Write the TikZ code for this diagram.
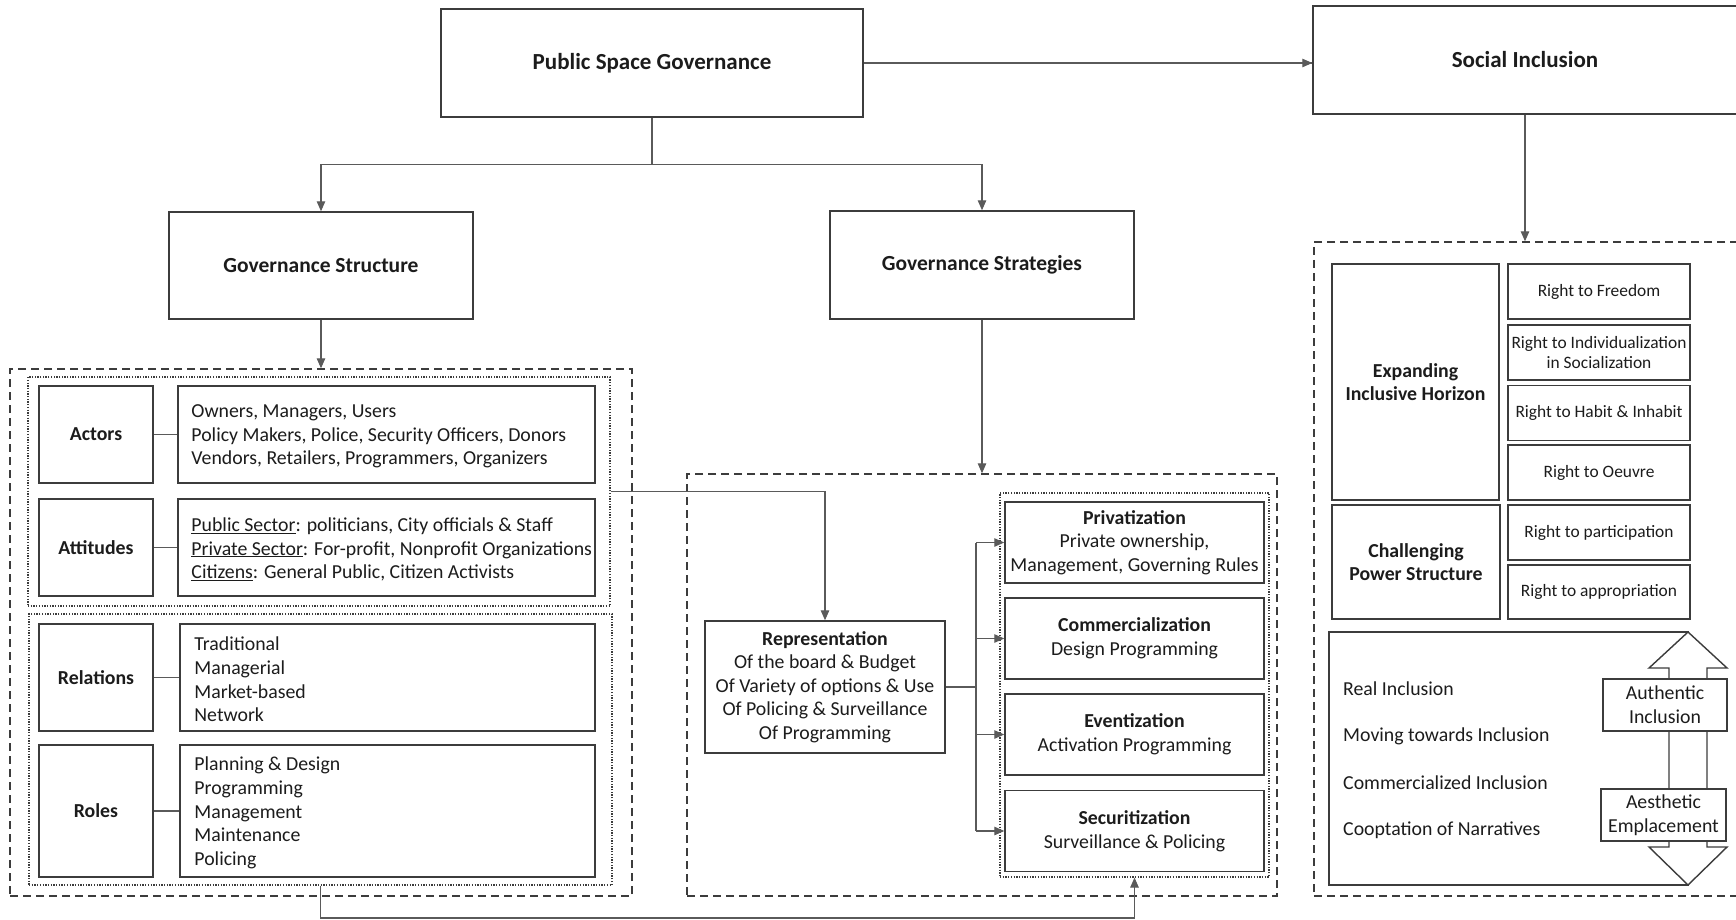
\documentclass[tikz,border=0pt]{standalone}
\usepackage{fontspec}
\setmainfont{Carlito}
\usetikzlibrary{arrows.meta,calc}
\definecolor{edge}{HTML}{3C3C3C}
\definecolor{wire}{HTML}{5A5A5A}
\definecolor{ink}{HTML}{1C1C1C}

\begin{document}
\begin{tikzpicture}[x=1pt,y=-1pt,
  box/.style={draw=edge, line width=1.5pt, fill=white, inner sep=2pt, text=ink, align=center},
  dashbox/.style={draw=edge, line width=1.4pt, dash pattern=on 8pt off 5pt},
  dotbox/.style={draw=edge, line width=1.2pt, dash pattern=on 1.3pt off 1.4pt},
  link/.style={draw=wire, line width=1.1pt},
  arr/.style={link, -{Triangle[length=10pt,width=8.5pt]}},
  big/.style={font=\fontsize{23}{28}\selectfont\bfseries},
  mid/.style={font=\fontsize{21.5}{26}\selectfont\bfseries},
  body/.style={font=\fontsize{19.8}{23.6}\selectfont},
  head/.style={font=\fontsize{19.8}{23.6}\selectfont\bfseries},
  small/.style={font=\fontsize{17.4}{20}\selectfont},
  txt/.style={text=ink, inner sep=0pt, align=left}
]
\useasboundingbox (0,0) rectangle (1736,920);
\clip (0,0) rectangle (1736,920);
\fill[white] (0,0) rectangle (1736,920);

% ---------- top level ----------
\node[box, big, minimum width=422pt, minimum height=108pt] (psg) at (652,63) {Public Space Governance};
\node[box, big, minimum width=424pt, minimum height=108pt] (si) at (1525,60) {Social Inclusion};
\node[box, mid, minimum width=304pt, minimum height=107pt] (gstruct) at (321,265.5) {Governance Structure};
\node[box, mid, minimum width=304pt, minimum height=108pt] (gstrat) at (982,265) {Governance Strategies};

% ---------- containers ----------
\node[dashbox, minimum width=622pt, minimum height=527pt] (d1) at (321,632.5) {};
\node[dotbox, minimum width=582pt, minimum height=229pt] (g1) at (319,491.5) {};
\node[dotbox, minimum width=583pt, minimum height=271pt] (g2) at (320.5,749.5) {};
\node[dashbox, minimum width=590pt, minimum height=422pt] (d2) at (982,685) {};
\node[dotbox, minimum width=269pt, minimum height=384pt] (g3) at (1134.5,685) {};
\node[dashbox, minimum width=431pt, minimum height=654pt] (d3) at (1529.5,569) {};

% ---------- governance structure ----------
\node[box, head, minimum width=114pt, minimum height=97pt] (act) at (96,434.5) {Actors};
\node[box, minimum width=417pt, minimum height=97pt] (actC) at (386.5,434.5) {};
\node[txt, body, anchor=west] (actT) at ([xshift=14pt,yshift=-2pt]actC.west)
  {Owners, Managers, Users\\Policy Makers, Police, Security Officers, Donors\\Vendors, Retailers, Programmers, Organizers};

\node[box, head, minimum width=114pt, minimum height=97pt] (att) at (96,547.5) {Attitudes};
\node[box, minimum width=417pt, minimum height=97pt] (attC) at (386.5,547.5) {};
\node[txt, body, anchor=west] (attT) at ([xshift=14pt,yshift=-2pt]attC.west)
  {\underline{Public Sector}: politicians, City officials \& Staff\\\underline{Private Sector}: For-profit, Nonprofit Organizations\\\underline{Citizens}: General Public, Citizen Activists};

\node[box, head, minimum width=114pt, minimum height=107pt] (rel) at (96,677.5) {Relations};
\node[box, minimum width=415pt, minimum height=107pt] (relC) at (387.5,677.5) {};
\node[txt, body, anchor=west] (relT) at ([xshift=15pt,yshift=-2pt]relC.west)
  {Traditional\\Managerial\\Market-based\\Network};

\node[box, head, minimum width=114pt, minimum height=132pt] (rol) at (96,811) {Roles};
\node[box, minimum width=415pt, minimum height=132pt] (rolC) at (387.5,811) {};
\node[txt, body, anchor=west] (rolT) at ([xshift=15pt,yshift=-2pt]rolC.west)
  {Planning \& Design\\Programming\\Management\\Maintenance\\Policing};

\foreach \a/\b in {act/actC, att/attC, rel/relC, rol/rolC}
  \draw[link] (\a.east) -- (\b.west);

% ---------- governance strategies ----------
\node[box, body, minimum width=240pt, minimum height=132pt] (rep) at (825,687)
  {\textbf{Representation}\\Of the board \& Budget\\Of Variety of options \& Use\\Of Policing \& Surveillance\\Of Programming};

\node[box, body, minimum width=259pt, minimum height=81pt] (priv) at (1134.5,542.5)
  {\textbf{Privatization}\\Private ownership,\\Management, Governing Rules};
\node[box, body, minimum width=259pt, minimum height=81pt] (comm) at (1134.5,638.5)
  {\textbf{Commercialization}\\Design Programming};
\node[box, body, minimum width=259pt, minimum height=81pt] (evt) at (1134.5,734.5)
  {\textbf{Eventization}\\Activation Programming};
\node[box, body, minimum width=259pt, minimum height=81pt] (sec) at (1134.5,831)
  {\textbf{Securitization}\\Surveillance \& Policing};

\coordinate (split) at (976,687);
\draw[link] (rep.east) -- (split);
\draw[link] (split |- priv.west) -- (split |- sec.west);
\foreach \n in {priv, comm, evt, sec}
  \draw[arr] (split |- \n.west) -- (\n.west);

% ---------- social inclusion ----------
\node[box, head, minimum width=167pt, minimum height=236pt] (exp) at (1415.5,382)
  {Expanding\\Inclusive Horizon};
\node[box, head, minimum width=168pt, minimum height=114pt] (chal) at (1416,562)
  {Challenging\\Power Structure};

\node[box, small, minimum width=182pt, minimum height=55pt] (r1) at (1599,291.5) {Right to Freedom};
\node[box, small, minimum width=182pt, minimum height=55pt, inner sep=0pt] (r2) at (1599,352.5) {Right to Individualization\\in Socialization};
\node[box, small, minimum width=182pt, minimum height=55pt] (r3) at (1599,413) {Right to Habit \& Inhabit};
\node[box, small, minimum width=182pt, minimum height=55pt] (r4) at (1599,472.5) {Right to Oeuvre};
\node[box, small, minimum width=182pt, minimum height=55pt] (r5) at (1599,532.5) {Right to participation};
\node[box, small, minimum width=182pt, minimum height=54pt] (r6) at (1599,592) {Right to appropriation};

\node[box, minimum width=359pt, minimum height=253pt] (scale) at (1508.5,758.5) {};
\node[txt, body, anchor=west] (l1) at (1343,689) {Real Inclusion};
\node[txt, body, anchor=west] (l2) at (1343,736) {Moving towards Inclusion};
\node[txt, body, anchor=west] (l3) at (1343,783) {Commercialized Inclusion};
\node[txt, body, anchor=west] (l4) at (1343,830) {Cooptation of Narratives};

% two-headed scale arrow
\draw[draw=edge, line width=1.4pt, fill=white]
  (1688,632) -- (1727,668) -- (1707,668) -- (1707,847) -- (1727,847) -- (1688,885)
  -- (1649,847) -- (1669,847) -- (1669,668) -- (1649,668) -- cycle;
\node[box, font=\fontsize{19.8}{24}\selectfont, minimum width=124pt, minimum height=52pt, inner sep=0pt] (auth) at (1665,705) {Authentic\\Inclusion};
\node[box, font=\fontsize{19.8}{24}\selectfont, minimum width=125pt, minimum height=52pt, inner sep=0pt] (aest) at (1663.5,815) {Aesthetic\\Emplacement};

% ---------- connectors ----------
\draw[link] (psg.east) -- (psg.east -| si.west);
\draw[arr] ([xshift=-12pt]psg.east -| si.west) -- (psg.east -| si.west);
\draw[arr] (psg.south) -- ++(0,47) -| (gstruct.north);
\draw[arr] (psg.south) -- ++(0,47) -| (gstrat.north);
\draw[arr] (gstruct.south) -- (gstruct.south |- d1.north);
\draw[arr] (gstrat.south) -- (gstrat.south |- d2.north);
\draw[arr] (si.south) -- (si.south |- d3.north);
\draw[arr] (g1.east) -| (rep.north);
\draw[arr] (g2.south) -- (g2.south |- 0,918) -| (g3.south);

\end{tikzpicture}
\end{document}
